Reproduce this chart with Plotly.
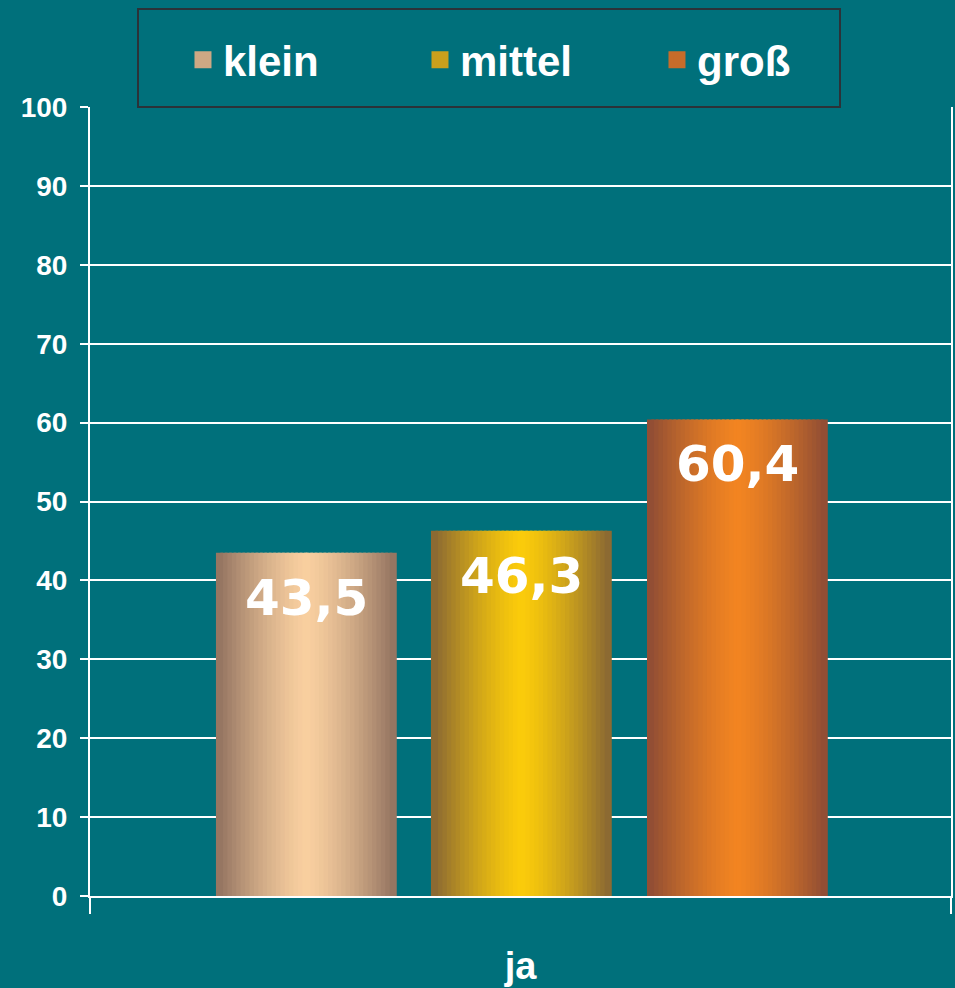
import plotly.graph_objects as go

# ---- data ----
categories = ["ja"]
series_names = ["klein", "mittel", "groß"]
series_values = [43.5, 46.3, 60.4]
y_ticks = [0, 10, 20, 30, 40, 50, 60, 70, 80, 90, 100]

# ---- styles ----
BG = "#00707B"
edge_colors = [(150, 118, 98), (140, 106, 50), (146, 78, 52)]
center_colors = [(250, 208, 160), (252, 204, 10), (243, 133, 33)]
bar_starts = [-0.3537, -0.104, 0.1469]   # offsets within the category
bar_width = 0.21
N = 41  # strips per bar for the cylinder gradient


def mix(c1, c2, t):
    return "rgb(%d,%d,%d)" % tuple(round(a + (b - a) * t) for a, b in zip(c1, c2))


fig = go.Figure()

for k, (name, val) in enumerate(zip(series_names, series_values)):
    w = bar_width / N
    mid = N // 2
    order = [mid]
    for d in range(1, mid + 1):
        order += [mid - d, mid + d]
    offsets, widths, colors = [], [], []
    for i in order:
        t = abs(2 * i / (N - 1) - 1)
        colors.append(mix(center_colors[k], edge_colors[k], t ** 1.4))
        start = bar_starts[k] + i * w
        ov = w * 0.6
        if i < mid:
            offsets.append(start)
            widths.append(w + ov)
        elif i > mid:
            offsets.append(start - ov)
            widths.append(w + ov)
        else:
            offsets.append(start)
            widths.append(w)
    fig.add_trace(go.Bar(
        x=categories * len(order),
        y=[val] * len(order),
        offset=offsets,
        width=widths,
        name=name,
        legendgroup=name,
        showlegend=False,
        marker=dict(color=colors, line=dict(width=0)),
        hoverinfo="skip",
    ))
    fig.add_annotation(
        x=bar_starts[k] + bar_width / 2, y=val, xref="x", yref="y",
        text=("%.1f" % val).replace(".", ","),
        showarrow=False, yanchor="middle", yshift=-45,
        font=dict(family="DejaVu Sans", size=50, color="white", weight="bold"),
    )

# legend entries (symbol enlarged with same-colour outline)
for k, name in enumerate(series_names):
    c = mix(center_colors[k], edge_colors[k], 0.45)
    fig.add_trace(go.Bar(
        x=categories, y=[None], name=name, legendgroup=name, showlegend=True,
        marker=dict(color=c, line=dict(color=c, width=5)),
        hoverinfo="skip",
    ))

# legend frame
fig.add_shape(type="rect", xref="paper", yref="paper",
              x0=(138 - 90) / 861, x1=(840 - 90) / 861,
              y0=(896 - 107) / 789, y1=(896 - 9) / 789,
              line=dict(color="#2b3238", width=2), fillcolor=BG, layer="below")

fig.update_layout(
    width=955, height=988,
    margin=dict(l=90, r=4, t=107, b=92, autoexpand=False),
    paper_bgcolor=BG, plot_bgcolor=BG,
    barmode="overlay",
    showlegend=True,
    legend=dict(orientation="h", x=0.108, xanchor="left", y=(896 - 60) / 789,
                yanchor="middle", bgcolor="rgba(0,0,0,0)", entrywidth=192,
                font=dict(family="Liberation Sans, Arial", size=42, color="white",
                          weight="bold")),
    xaxis=dict(type="category", range=[-0.5, 0.5], tickson="boundaries",
               ticks="outside", ticklen=16, tickwidth=2, tickcolor="white",
               showline=True, linecolor="white", linewidth=2, automargin=False,
               showgrid=False, ticklabelstandoff=35,
               tickfont=dict(family="Liberation Sans, Arial", size=38, color="white",
                             weight="bold")),
    yaxis=dict(range=[0, 100], tickvals=y_ticks, ticks="outside", ticklen=8,
               tickwidth=2, tickcolor="white", showline=True, linecolor="white",
               linewidth=2, mirror=True, showgrid=True, gridcolor="white",
               gridwidth=2, zeroline=False, ticklabelstandoff=7, automargin=False,
               tickfont=dict(family="Liberation Sans, Arial", size=28, color="white",
                             weight="bold")),
)

fig.write_html("out.html")
